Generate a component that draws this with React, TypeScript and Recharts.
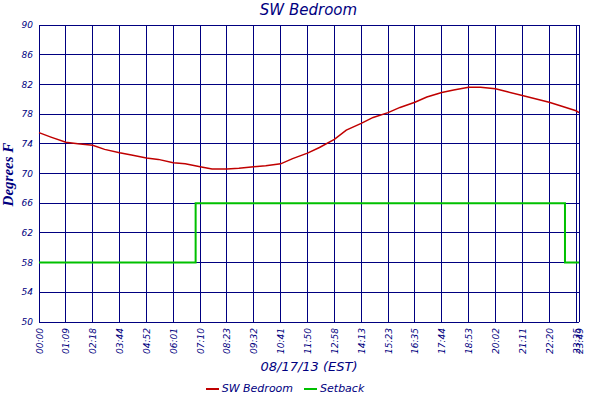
import { LineChart, Line, XAxis, YAxis, CartesianGrid, Legend } from 'recharts'

const NAVY = '#000080'
const RED = '#c00000'
const GREEN = '#00c000'
const FONT = '"DejaVu Sans", Verdana, sans-serif'

// one label every 9 samples, the last sample gets its own label
const tickIdx = [0, 9, 18, 27, 36, 45, 54, 63, 72, 81, 90, 99, 108, 117, 126, 135, 144, 153, 162, 171, 180, 181]
const tickLabels = [
  '00:00', '01:09', '02:18', '03:44', '04:52', '06:01', '07:10', '08:23', '09:32', '10:41', '11:50',
  '12:58', '14:13', '15:23', '16:35', '17:44', '18:53', '20:02', '21:11', '22:20', '23:35', '23:49',
]

// SW Bedroom readings (degrees F) at sample positions
const tempIdx = [
  0, 4, 9, 13, 18, 22, 27, 31, 36, 40, 45, 49, 54, 58, 63, 67, 72, 76, 81, 85, 90,
  94, 99, 103, 108, 112, 117, 121, 126, 130, 135, 139, 144, 148, 153, 157, 162, 166, 171, 175, 180, 181,
]
const tempValues = [
  75.5, 74.9, 74.2, 74.0, 73.8, 73.25, 72.8, 72.5, 72.1, 71.9, 71.45, 71.3, 70.9, 70.6, 70.6, 70.7, 70.9,
  71.05, 71.3, 72.0, 72.75, 73.5, 74.6, 75.85, 76.75, 77.55, 78.2, 78.9, 79.6, 80.3, 80.9, 81.25, 81.6,
  81.6, 81.4, 81.0, 80.5, 80.1, 79.6, 79.1, 78.45, 78.2,
]

// Setback schedule: value holds until the next change
const setbackIdx = [0, 52.5, 176.3, 181]
const setbackValues = [58, 66, 58, 58]

const yTicks = [50, 54, 58, 62, 66, 70, 74, 78, 82, 86, 90]

const tempData = tempIdx.map((idx, i) => ({ idx, temp: tempValues[i] }))
const setbackData = setbackIdx.map((idx, i) => ({ idx, setback: setbackValues[i] }))

function TimeTick({ x, y, payload }: { x?: number; y?: number; payload?: { value: number } }) {
  const label = tickLabels[tickIdx.indexOf(payload?.value ?? -1)]
  const tx = (x ?? 0) + 3.5
  const ty = (y ?? 0) - 2
  return (
    <text
      x={tx}
      y={ty}
      transform={`rotate(-90 ${tx} ${ty})`}
      textAnchor="end"
      fill={NAVY}
      fontSize={9}
      fontStyle="italic"
      fontFamily={FONT}
    >
      {label}
    </text>
  )
}

function YLabel({ viewBox }: { viewBox?: { x: number; y: number; width: number; height: number } }) {
  const vb = viewBox ?? { x: 0, y: 0, width: 0, height: 0 }
  const cx = 13
  const cy = vb.y + vb.height / 2 + 1
  return (
    <text
      x={cx}
      y={cy}
      transform={`rotate(-90 ${cx} ${cy})`}
      textAnchor="middle"
      fill={NAVY}
      fontSize={15}
      fontStyle="italic"
      fontWeight="bold"
      fontFamily='"Liberation Serif", "DejaVu Serif", serif'
    >
      Degrees F
    </text>
  )
}

function LegendContent() {
  const items = [
    { name: 'SW Bedroom', color: RED },
    { name: 'Setback', color: GREEN },
  ]
  return (
    <div style={{ display: 'flex', justifyContent: 'center', gap: 11, fontFamily: FONT }}>
      {items.map((it) => (
        <div key={it.name} style={{ display: 'flex', alignItems: 'center', gap: 3 }}>
          <span style={{ display: 'inline-block', width: 13, height: 2, background: it.color }} />
          <span style={{ color: NAVY, fontSize: 11, fontStyle: 'italic' }}>{it.name}</span>
        </div>
      ))}
    </div>
  )
}

export default function App() {
  const tickStyle = { fill: NAVY, fontSize: 9, fontStyle: 'italic', fontFamily: FONT }
  return (
    <div style={{ position: 'absolute', left: 0, top: 0, width: 600, height: 400, background: '#fff' }}>
      <style>{'.recharts-cartesian-grid line { shape-rendering: crispEdges; }'}</style>
      <div
        style={{
          position: 'absolute',
          left: 0,
          top: 1,
          width: 617,
          textAlign: 'center',
          color: NAVY,
          fontFamily: FONT,
          fontStyle: 'italic',
          fontSize: 15,
        }}
      >
        SW Bedroom
      </div>
      <LineChart width={600} height={400} margin={{ top: 25, right: 0, bottom: 0, left: 0 }}>
        <CartesianGrid stroke={NAVY} strokeWidth={1} />
        <XAxis
          type="number"
          dataKey="idx"
          domain={[0, 181]}
          ticks={tickIdx}
          interval={0}
          height={78}
          axisLine={false}
          tickLine={false}
          tick={<TimeTick />}
          label={{
            value: '08/17/13 (EST)',
            position: 'insideBottom',
            offset: 29,
            fill: NAVY,
            fontSize: 13,
            fontStyle: 'italic',
            fontFamily: FONT,
          }}
        />
        <YAxis
          domain={[50, 90]}
          ticks={yTicks}
          interval={0}
          width={39}
          axisLine={false}
          tickLine={false}
          tickSize={4}
          tickMargin={2}
          tick={tickStyle}
          label={<YLabel />}
        />
        <YAxis
          yAxisId="r"
          orientation="right"
          domain={[50, 90]}
          ticks={yTicks}
          interval={0}
          width={21}
          axisLine={false}
          tickLine={false}
          tickSize={2}
          tickMargin={2}
          tick={tickStyle}
        />
        <Legend
          layout="horizontal"
          verticalAlign="middle"
          align="center"
          content={<LegendContent />}
          wrapperStyle={{ top: 382, left: 0, width: 570 }}
        />
        <Line
          data={tempData}
          dataKey="temp"
          name="SW Bedroom"
          type="linear"
          stroke={RED}
          strokeWidth={1.5}
          dot={false}
          isAnimationActive={false}
        />
        <Line
          data={setbackData}
          dataKey="setback"
          name="Setback"
          type="stepAfter"
          stroke={GREEN}
          strokeWidth={2}
          dot={false}
          isAnimationActive={false}
        />
      </LineChart>
    </div>
  )
}
